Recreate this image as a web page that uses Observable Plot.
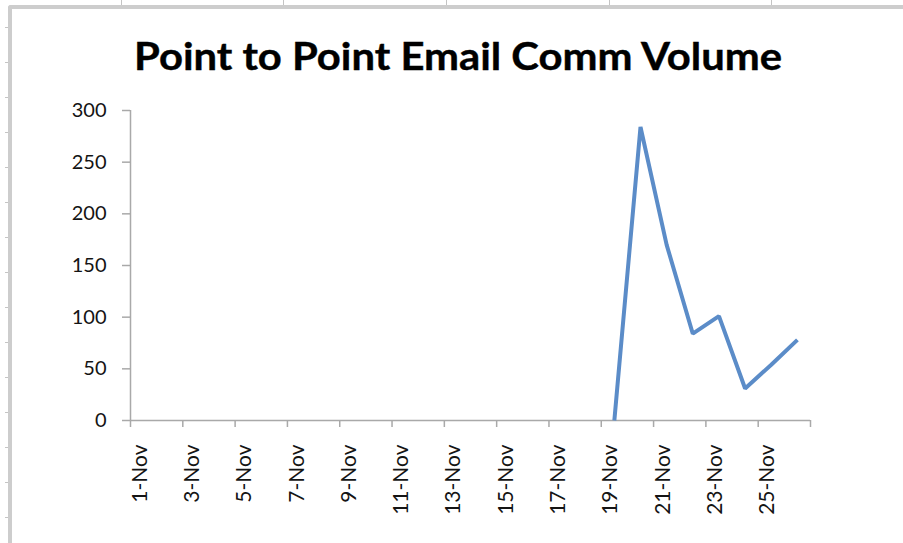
<!DOCTYPE html>
<html>
<head>
<meta charset="utf-8">
<script src="https://cdn.jsdelivr.net/npm/d3@7"></script>
<script src="https://cdn.jsdelivr.net/npm/@observablehq/plot@0.6"></script>
<style>
  html, body { margin: 0; padding: 0; background: #fff; }
  #wrap { position: relative; width: 903px; height: 543px; overflow: hidden; background: #fff; font-family: Lato, "Open Sans", sans-serif; }
  #frameTop { position: absolute; left: 8px; top: 5px; right: -10px; height: 4px; background: #cdcdcd; border-top-left-radius: 3px; }
  #frameLeft { position: absolute; left: 8px; top: 5px; bottom: -10px; width: 4px; background: #cdcdcd; border-top-left-radius: 3px; }
  .vcell { position: absolute; top: 0; width: 1px; height: 6px; background: #c4c4c4; }
  .hcell { position: absolute; left: 5px; width: 3px; height: 1px; background: #c4c4c4; }
  #chart { position: absolute; left: 0; top: 0; }
  #title { position: absolute; left: 0; top: 0; pointer-events: none; }
</style>
</head>
<body>
<div id="wrap">
  <div id="frameTop"></div>
  <div id="frameLeft"></div>
  <div id="chart"></div>
  <svg id="title" width="903" height="543">
    <text x="458" y="70" text-anchor="middle" font-family="Lato, 'Open Sans', sans-serif" font-weight="bold" font-size="38" fill="#000" stroke="#000" stroke-width="0.4" textLength="648" lengthAdjust="spacingAndGlyphs">Point to Point Email Comm Volume</text>
  </svg>
</div>
<script>
// ---- data ----
const days = ["1-Nov","2-Nov","3-Nov","4-Nov","5-Nov","6-Nov","7-Nov","8-Nov","9-Nov","10-Nov",
              "11-Nov","12-Nov","13-Nov","14-Nov","15-Nov","16-Nov","17-Nov","18-Nov","19-Nov","20-Nov",
              "21-Nov","22-Nov","23-Nov","24-Nov","25-Nov","26-Nov"];
const volume = [null,null,null,null,null,null,null,null,null,null,
                null,null,null,null,null,null,null,null,0,284,
                170,84,101,31,54,78];
const yTicks = [0, 50, 100, 150, 200, 250, 300];
const xTickLabels = ["1-Nov","3-Nov","5-Nov","7-Nov","9-Nov","11-Nov","13-Nov","15-Nov","17-Nov","19-Nov","21-Nov","23-Nov","25-Nov"];

// ---- decoration (spreadsheet cell lines) ----
const wrap = document.getElementById("wrap");
[121, 283, 446, 609, 771].forEach(x => {
  const d = document.createElement("div"); d.className = "vcell"; d.style.left = x + "px"; wrap.insertBefore(d, wrap.firstChild);
});
for (let y = 27; y < 543; y += 35) {
  const d = document.createElement("div"); d.className = "hcell"; d.style.top = y + "px"; wrap.insertBefore(d, wrap.firstChild);
}

// ---- table ----
const table = days.map((d, i) => ({i: i + 1, day: d, v: volume[i]}));
const labelRows = table.filter(r => xTickLabels.includes(r.day));
const boundaries = d3.range(0, days.length + 1).filter(k => k % 2 === 0).map(k => k + 0.5);

const axisColor = "#a9a9a9";
const textColor = "#141414";

const chart = Plot.plot({
  width: 903,
  height: 543,
  marginLeft: 130,
  marginRight: 93,
  marginTop: 110,
  marginBottom: 123,
  style: {fontFamily: "Lato, 'Open Sans', sans-serif", background: "transparent"},
  x: {type: "linear", domain: [0.5, days.length + 0.5], axis: null},
  y: {domain: [0, 300], axis: null},
  marks: [
    // y axis
    Plot.axisY(yTicks, {tickSize: 8, tickPadding: 16, fontSize: 20, stroke: axisColor, strokeWidth: 1.5, fill: textColor, label: null, tickFormat: d => String(d)}),
    Plot.ruleX([0.5], {y1: 0, y2: 300, stroke: axisColor, strokeWidth: 1.5}),
    // x axis ticks at category boundaries
    Plot.axisX(boundaries, {tickSize: 7, stroke: axisColor, strokeWidth: 1.5, tickFormat: () => "", label: null}),
    Plot.ruleY([0], {stroke: axisColor, strokeWidth: 1.5}),
    // category labels, rotated
    Plot.text(labelRows, {x: "i", text: "day", frameAnchor: "bottom", rotate: -90, textAnchor: "end", dy: 24, dx: 3, fontSize: 21, fill: textColor}),
    // series
    Plot.line(table, {x: "i", y: "v", stroke: "#5b8cc8", strokeWidth: 4, strokeLinejoin: "miter", strokeLinecap: "butt"})
  ]
});
document.getElementById("chart").appendChild(chart);
</script>
</body>
</html>
